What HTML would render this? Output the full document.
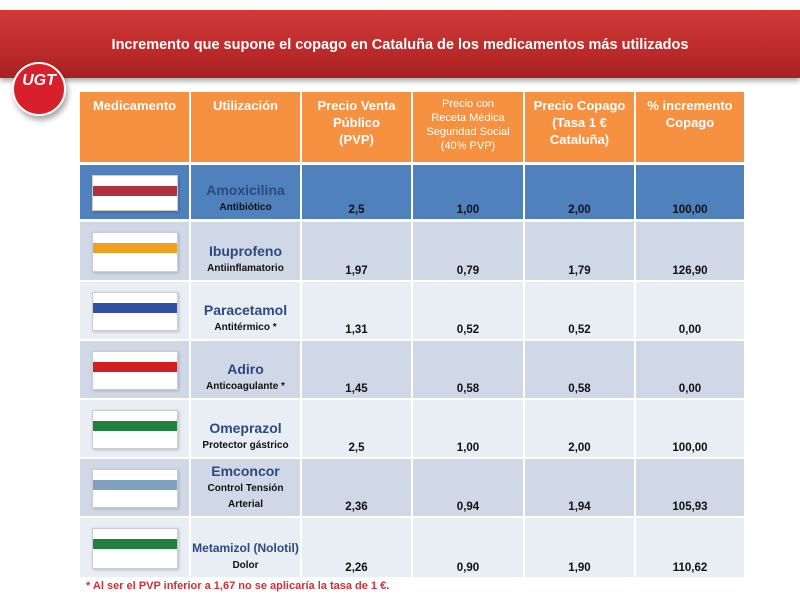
<!DOCTYPE html>
<html><head><meta charset="utf-8"><style>
body{margin:0;width:800px;height:600px;background:#fff;position:relative;overflow:hidden;font-family:"Liberation Sans",sans-serif}
.banner{position:absolute;left:0;top:10px;width:800px;height:68px;background:linear-gradient(#d23a3a,#b82828 70%,#a52222);box-shadow:0 3px 5px rgba(0,0,0,.35)}
.title{position:absolute;left:0;top:37px;width:800px;text-align:center;color:#fff;font-size:14.5px;font-weight:bold}
.logo{position:absolute;left:12px;top:62px;width:50px;height:50px;border-radius:50%;background:#d8202c;border:2px solid #fff;box-shadow:2px 4px 6px rgba(0,0,0,.35);color:#fff;font-weight:bold;font-size:16px;text-align:center;line-height:34px;font-style:italic}
.c{position:absolute;box-sizing:border-box;text-align:center;font-weight:bold}
.h{background:#f59140;color:#fff;font-size:13px;line-height:17px;padding-top:5px}
.h.s{font-size:11px;line-height:14px;font-weight:normal}
.n{font-size:11.5px;color:#111;display:flex;align-items:flex-end;justify-content:center;padding-bottom:3px}
.u{font-size:10px;color:#111;line-height:16px;display:flex;flex-direction:column;justify-content:flex-end;padding-bottom:3px}
.u b{font-size:14px;color:#2a4a80;line-height:20px}
.img{position:absolute;background:#fff;border:1px solid #ccc;box-shadow:1px 1px 3px rgba(0,0,0,.2)}
.foot{position:absolute;left:86px;top:580px;color:#d0303a;font-size:11px;font-weight:bold}
</style></head><body>
<div class="banner"></div>
<div class="title">Incremento que supone el copago en Cataluña de los medicamentos más utilizados</div>
<div class="logo">UGT</div>
<div id="t"></div>
<script>
var X=[80,191,302,413,525,636,746];
var hdr=["Medicamento","Utilización","Precio Venta<br>Público<br>(PVP)","Precio con<br>Receta Médica<br>Seguridad Social<br>(40% PVP)","Precio Copago<br>(Tasa 1 €<br>Cataluña)","% incremento<br>Copago"];
var rows=[[165,219,"#4f81bd","Amoxicilina","Antibiótico","2,5","1,00","2,00","100,00"],
[222,280,"#d0d8e8","Ibuprofeno","Antiinflamatorio","1,97","0,79","1,79","126,90"],
[282,339,"#e9edf4","Paracetamol","Antitérmico *","1,31","0,52","0,52","0,00"],
[341,398,"#d0d8e8","Adiro","Anticoagulante *","1,45","0,58","0,58","0,00"],
[400,457,"#e9edf4","Omeprazol","Protector gástrico","2,5","1,00","2,00","100,00"],
[459,516,"#d0d8e8","Emconcor","Control Tensión<br>Arterial","2,36","0,94","1,94","105,93"],
[518,577,"#e9edf4","Metamizol (Nolotil)","Dolor","2,26","0,90","1,90","110,62"]];
var h="";
for(var i=0;i<6;i++){h+='<div class="c h'+(i==3?' s':'')+'" style="left:'+X[i]+'px;top:92px;width:'+(X[i+1]-X[i]-2)+'px;height:70px">'+hdr[i]+'</div>';}
var imgc=["#b03040","#f0a020","#3050a0","#d02020","#208040","#80a0c0","#208040"];
rows.forEach(function(r,k){
 for(var i=0;i<6;i++){
  var st='left:'+X[i]+'px;top:'+r[0]+'px;width:'+(X[i+1]-X[i]-2)+'px;height:'+(r[1]-r[0])+'px;background:'+r[2];
  var cont='';var cl='c n';
  if(i==1){cl='c u';cont='<b style="'+(k==6?'font-size:12px':'')+'">'+r[3]+'</b>'+r[4];}
  else if(i>1) cont=r[i+3];
  h+='<div class="'+cl+'" style="'+st+'">'+cont+'</div>';
 }
 h+='<div class="img" style="left:'+(X[0]+12)+'px;top:'+(r[0]+10)+'px;width:84px;height:'+(r[1]-r[0]-20)+'px"><div style="margin-top:10px;height:10px;background:'+imgc[k]+'"></div></div>';
});
document.getElementById('t').innerHTML=h;
</script>
<div class="foot">* Al ser el PVP inferior a 1,67 no se aplicaría la tasa de 1 €.</div>
</body></html>
